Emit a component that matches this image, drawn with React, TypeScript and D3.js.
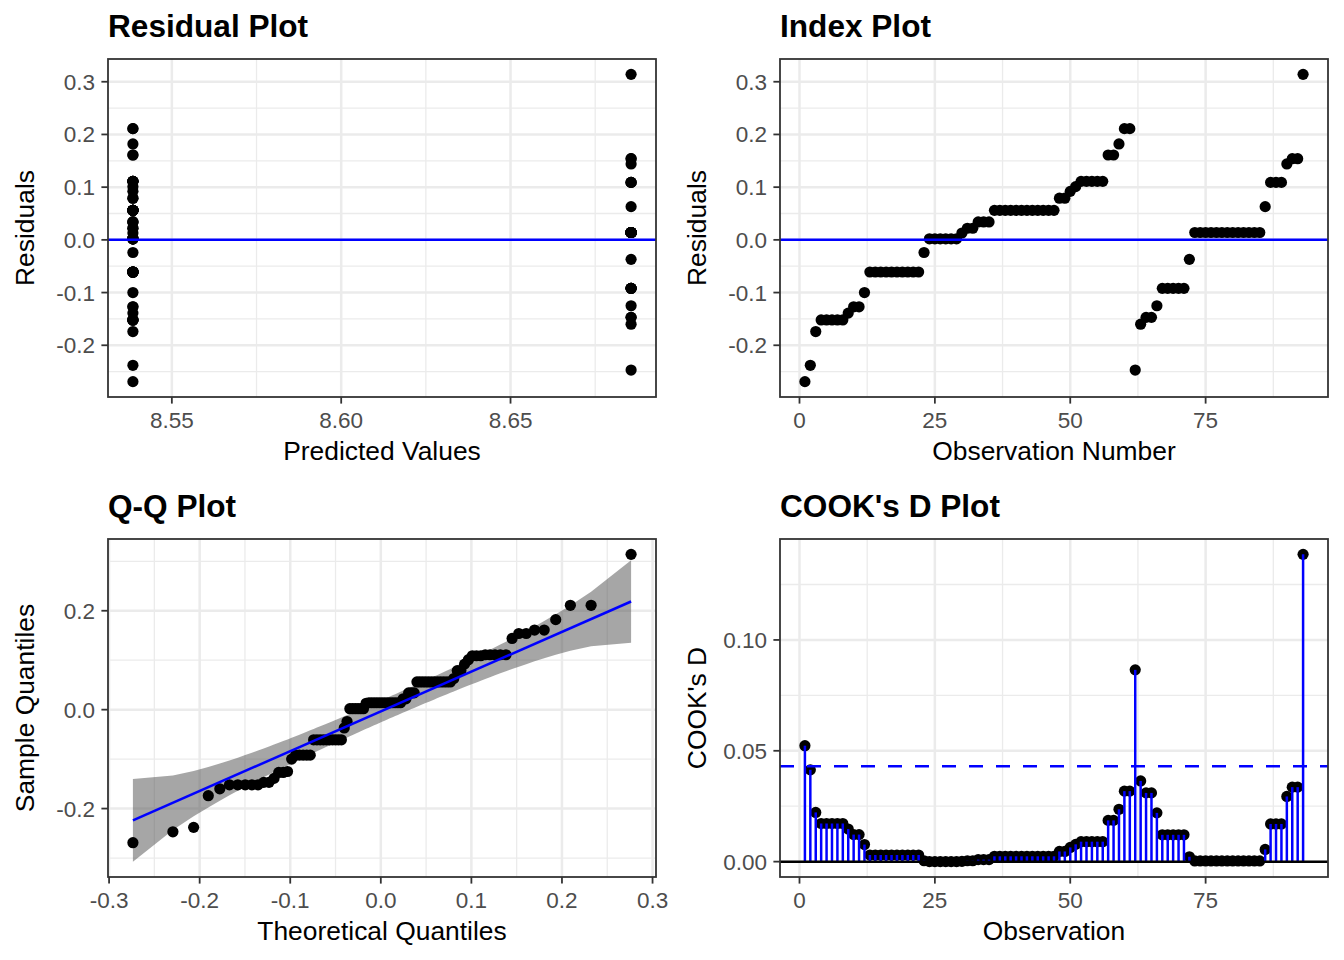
import * as d3 from 'd3';
import type { ReactNode } from 'react';

// residuals of the fitted model, in observation order
const residuals = [
  -0.269, -0.238, -0.174, -0.152, -0.152, -0.152, -0.152, -0.152, -0.139, -0.127,
  -0.127, -0.1, -0.061, -0.061, -0.061, -0.061, -0.061, -0.061, -0.061, -0.061,
  -0.061, -0.061, -0.024, 0.002, 0.002, 0.002, 0.002, 0.002, 0.002, 0.013,
  0.022, 0.022, 0.034, 0.034, 0.034, 0.056, 0.056, 0.056, 0.056, 0.056,
  0.056, 0.056, 0.056, 0.056, 0.056, 0.056, 0.056, 0.079, 0.079, 0.092,
  0.101, 0.111, 0.111, 0.111, 0.111, 0.111, 0.161, 0.161, 0.182, 0.211,
  0.211, -0.247, -0.16, -0.147, -0.147, -0.125, -0.092, -0.092, -0.092, -0.092,
  -0.092, -0.037, 0.014, 0.014, 0.014, 0.014, 0.014, 0.014, 0.014, 0.014,
  0.014, 0.014, 0.014, 0.014, 0.014, 0.063, 0.109, 0.109, 0.109, 0.144,
  0.154, 0.154, 0.314,
];

// Cook's distance per observation
const cooksD = [
  0.0523, 0.0414, 0.0222, 0.0172, 0.0172, 0.0172, 0.0172, 0.0172, 0.0147, 0.0122,
  0.0122, 0.0077, 0.003, 0.003, 0.003, 0.003, 0.003, 0.003, 0.003, 0.003,
  0.003, 0.003, 0.0004, 0.0, 0.0, 0.0, 0.0, 0.0, 0.0, 0.0001,
  0.0004, 0.0004, 0.0009, 0.0009, 0.0009, 0.0024, 0.0024, 0.0024, 0.0024, 0.0024,
  0.0024, 0.0024, 0.0024, 0.0024, 0.0024, 0.0024, 0.0024, 0.0046, 0.0046, 0.0064,
  0.0078, 0.009, 0.009, 0.009, 0.009, 0.009, 0.0186, 0.0186, 0.0236, 0.0318,
  0.0318, 0.0865, 0.0364, 0.031, 0.031, 0.022, 0.0121, 0.0121, 0.0121, 0.0121,
  0.0121, 0.0022, 0.0003, 0.0003, 0.0003, 0.0003, 0.0003, 0.0003, 0.0003, 0.0003,
  0.0003, 0.0003, 0.0003, 0.0003, 0.0003, 0.0055, 0.017, 0.017, 0.017, 0.0294,
  0.0336, 0.0336, 0.1386,
];

// two groups -> two fitted values
const fittedLevels = [8.5385, 8.6856];
const groupSizes = [61, 32];

const residualTicks = [-0.2, -0.1, 0, 0.1, 0.2, 0.3];
const fittedTicks = [8.55, 8.6, 8.65];
const obsTicks = [0, 25, 50, 75];
const qqXTicks = [-0.3, -0.2, -0.1, 0, 0.1, 0.2, 0.3];
const qqYTicks = [-0.2, 0, 0.2];
const cookTicks = [0, 0.05, 0.1];

const FONT = '"Liberation Sans", Arial, Helvetica, sans-serif';
const n = residuals.length;

const fitted = residuals.map((_, i) => (i < groupSizes[0] ? fittedLevels[0] : fittedLevels[1]));
const cookCutoff = 4 / n;

// inverse normal CDF (Acklam) for the Q-Q transform
function qnorm(p: number): number {
  const a = [-39.69683028665376, 220.9460984245205, -275.9285104469687, 138.357751867269, -30.66479806614716, 2.506628277459239];
  const b = [-54.47609879822406, 161.5858368580409, -155.6989798598866, 66.80131188771972, -13.28068155288572];
  const c = [-0.007784894002430293, -0.3223964580411365, -2.400758277161838, -2.549732539343734, 4.374664141464968, 2.938163982698783];
  const d = [0.007784695709041462, 0.3224671290700398, 2.445134137142996, 3.754408661907416];
  const pl = 0.02425;
  if (p < pl) {
    const q = Math.sqrt(-2 * Math.log(p));
    return (((((c[0] * q + c[1]) * q + c[2]) * q + c[3]) * q + c[4]) * q + c[5]) / ((((d[0] * q + d[1]) * q + d[2]) * q + d[3]) * q + 1);
  }
  if (p > 1 - pl) {
    const q = Math.sqrt(-2 * Math.log(1 - p));
    return -(((((c[0] * q + c[1]) * q + c[2]) * q + c[3]) * q + c[4]) * q + c[5]) / ((((d[0] * q + d[1]) * q + d[2]) * q + d[3]) * q + 1);
  }
  const q = p - 0.5;
  const r = q * q;
  return ((((((a[0] * r + a[1]) * r + a[2]) * r + a[3]) * r + a[4]) * r + a[5]) * q) / (((((b[0] * r + b[1]) * r + b[2]) * r + b[3]) * r + b[4]) * r + 1);
}
const dnorm = (z: number) => Math.exp((-z * z) / 2) / Math.sqrt(2 * Math.PI);

// Q-Q stats: normal fitted by mean / sd (MLE), line through quartiles, pointwise 95% band
const mu = d3.mean(residuals)!;
const sigma = Math.sqrt(d3.mean(residuals, (r) => (r - mu) ** 2)!);
const sorted = residuals.slice().sort(d3.ascending);
const qq = sorted.map((y, i) => {
  const p = (i + 0.5) / n;
  const z = qnorm(p);
  return { p, z, x: mu + sigma * z, y };
});
const yq1 = d3.quantile(sorted, 0.25)!;
const yq3 = d3.quantile(sorted, 0.75)!;
const xq1 = mu + sigma * qnorm(0.25);
const xq3 = mu + sigma * qnorm(0.75);
const slope = (yq3 - yq1) / (xq3 - xq1);
const intercept = yq1 - slope * xq1;
const zz = qnorm(0.975);
const band = qq.map((d) => {
  const fit = intercept + slope * d.x;
  const se = ((slope * sigma) / dnorm(d.z)) * Math.sqrt((d.p * (1 - d.p)) / n);
  return { x: d.x, lo: fit - zz * se, hi: fit + zz * se };
});

const expand = (lo: number, hi: number): [number, number] => {
  const r = hi - lo;
  return [lo - r * 0.05, hi + r * 0.05];
};

function minorOf(majors: number[], domain: number[]) {
  const step = majors[1] - majors[0];
  const out: number[] = [];
  for (let k = -1; k < majors.length; k++) {
    const v = majors[0] + (k + 0.5) * step;
    if (v >= Math.min(domain[0], domain[1]) && v <= Math.max(domain[0], domain[1])) out.push(v);
  }
  return out;
}

const fmt = (spec: string) => {
  const f = d3.format(spec);
  return (v: number) => f(v).replace('\u2212', '-');
};

const PW = 548;
const PH = 338;
const COLS = [108, 780];
const ROWS = [59, 539];
const TICK_FS = 22.5;

interface PanelProps {
  x: number;
  y: number;
  xs: d3.ScaleLinear<number, number>;
  ys: d3.ScaleLinear<number, number>;
  xTicks: number[];
  yTicks: number[];
  xFmt: (v: number) => string;
  yFmt: (v: number) => string;
  title: string;
  xLabel: string;
  yLabel: string;
  children: ReactNode;
}

function Panel({ x, y, xs, ys, xTicks, yTicks, xFmt, yFmt, title, xLabel, yLabel, children }: PanelProps) {
  const xMinor = minorOf(xTicks, xs.domain());
  const yMinor = minorOf(yTicks, ys.domain());
  return (
    <g>
      <text x={x} y={y - 22} fontSize={31.6} fontWeight="bold" fill="#000">
        {title}
      </text>
      <g transform={`translate(${x},${y})`}>
        <rect width={PW} height={PH} fill="#fff" />
        {xMinor.map((v) => (
          <line key={'xm' + v} x1={xs(v)} x2={xs(v)} y1={0} y2={PH} stroke="#EBEBEB" strokeWidth={1.3} />
        ))}
        {yMinor.map((v) => (
          <line key={'ym' + v} x1={0} x2={PW} y1={ys(v)} y2={ys(v)} stroke="#EBEBEB" strokeWidth={1.3} />
        ))}
        {xTicks.map((v) => (
          <line key={'xM' + v} x1={xs(v)} x2={xs(v)} y1={0} y2={PH} stroke="#EBEBEB" strokeWidth={2.5} />
        ))}
        {yTicks.map((v) => (
          <line key={'yM' + v} x1={0} x2={PW} y1={ys(v)} y2={ys(v)} stroke="#EBEBEB" strokeWidth={2.5} />
        ))}
        <g>{children}</g>
        <rect width={PW} height={PH} fill="none" stroke="#333333" strokeWidth={1.8} />
        {xTicks.map((v) => (
          <g key={'xt' + v}>
            <line x1={xs(v)} x2={xs(v)} y1={PH} y2={PH + 6.6} stroke="#333333" strokeWidth={1.8} />
            <text x={xs(v)} y={PH + 30.5} textAnchor="middle" fontSize={TICK_FS} fill="#4D4D4D">
              {xFmt(v)}
            </text>
          </g>
        ))}
        {yTicks.map((v) => (
          <g key={'yt' + v}>
            <line x1={-6.6} x2={0} y1={ys(v)} y2={ys(v)} stroke="#333333" strokeWidth={1.8} />
            <text x={-13} y={ys(v) + 8} textAnchor="end" fontSize={TICK_FS} fill="#4D4D4D">
              {yFmt(v)}
            </text>
          </g>
        ))}
        <text x={PW / 2} y={PH + 63} textAnchor="middle" fontSize={26.4} fill="#000">
          {xLabel}
        </text>
        <text
          transform={`translate(${-74},${PH / 2}) rotate(-90)`}
          textAnchor="middle"
          fontSize={26.4}
          fill="#000"
        >
          {yLabel}
        </text>
      </g>
    </g>
  );
}

export default function App() {
  const resExtent = d3.extent(residuals) as [number, number];
  const resY = d3.scaleLinear().domain(expand(resExtent[0], resExtent[1])).range([PH, 0]);

  const fitExtent = d3.extent(fitted) as [number, number];
  const fitX = d3.scaleLinear().domain(expand(fitExtent[0], fitExtent[1])).range([0, PW]);

  const obsX = d3.scaleLinear().domain(expand(1, n)).range([0, PW]);

  const qqXExt = d3.extent(qq, (d) => d.x) as [number, number];
  const qqX = d3.scaleLinear().domain(expand(qqXExt[0], qqXExt[1])).range([0, PW]);
  const qqYlo = Math.min(d3.min(band, (d) => d.lo)!, sorted[0]);
  const qqYhi = Math.max(d3.max(band, (d) => d.hi)!, sorted[n - 1]);
  const qqY = d3.scaleLinear().domain(expand(qqYlo, qqYhi)).range([PH, 0]);

  const cookY = d3.scaleLinear().domain(expand(0, d3.max(cooksD)!)).range([PH, 0]);

  const bandArea = d3
    .area<{ x: number; lo: number; hi: number }>()
    .x((d) => qqX(d.x))
    .y0((d) => qqY(d.lo))
    .y1((d) => qqY(d.hi));

  const R = 5.6;

  return (
    <svg
      width={1344}
      height={960}
      style={{ position: 'absolute', left: 0, top: 0, background: '#fff', fontFamily: FONT }}
    >
      <rect width={1344} height={960} fill="#fff" />

      <Panel
        x={COLS[0]}
        y={ROWS[0]}
        xs={fitX}
        ys={resY}
        xTicks={fittedTicks}
        yTicks={residualTicks}
        xFmt={fmt('.2f')}
        yFmt={fmt('.1f')}
        title="Residual Plot"
        xLabel="Predicted Values"
        yLabel="Residuals"
      >
        {residuals.map((r, i) => (
          <circle key={i} cx={fitX(fitted[i])} cy={resY(r)} r={R} fill="#000" />
        ))}
        <line x1={0} x2={PW} y1={resY(0)} y2={resY(0)} stroke="#0000FF" strokeWidth={2.5} />
      </Panel>

      <Panel
        x={COLS[1]}
        y={ROWS[0]}
        xs={obsX}
        ys={resY}
        xTicks={obsTicks}
        yTicks={residualTicks}
        xFmt={fmt('d')}
        yFmt={fmt('.1f')}
        title="Index Plot"
        xLabel="Observation Number"
        yLabel="Residuals"
      >
        {residuals.map((r, i) => (
          <circle key={i} cx={obsX(i + 1)} cy={resY(r)} r={R} fill="#000" />
        ))}
        <line x1={0} x2={PW} y1={resY(0)} y2={resY(0)} stroke="#0000FF" strokeWidth={2.5} />
      </Panel>

      <Panel
        x={COLS[0]}
        y={ROWS[1]}
        xs={qqX}
        ys={qqY}
        xTicks={qqXTicks}
        yTicks={qqYTicks}
        xFmt={fmt('.1f')}
        yFmt={fmt('.1f')}
        title="Q-Q Plot"
        xLabel="Theoretical Quantiles"
        yLabel="Sample Quantiles"
      >
        <path d={bandArea(band) || ''} fill="#4D4D4D" fillOpacity={0.5} />
        {qq.map((d, i) => (
          <circle key={i} cx={qqX(d.x)} cy={qqY(d.y)} r={R} fill="#000" />
        ))}
        <line
          x1={qqX(qqXExt[0])}
          x2={qqX(qqXExt[1])}
          y1={qqY(intercept + slope * qqXExt[0])}
          y2={qqY(intercept + slope * qqXExt[1])}
          stroke="#0000FF"
          strokeWidth={2.5}
        />
      </Panel>

      <Panel
        x={COLS[1]}
        y={ROWS[1]}
        xs={obsX}
        ys={cookY}
        xTicks={obsTicks}
        yTicks={cookTicks}
        xFmt={fmt('d')}
        yFmt={fmt('.2f')}
        title="COOK's D Plot"
        xLabel="Observation"
        yLabel="COOK's D"
      >
        {cooksD.map((v, i) => (
          <circle key={'p' + i} cx={obsX(i + 1)} cy={cookY(v)} r={R} fill="#000" />
        ))}
        {cooksD.map((v, i) => (
          <line
            key={'s' + i}
            x1={obsX(i + 1)}
            x2={obsX(i + 1)}
            y1={cookY(0)}
            y2={cookY(v)}
            stroke="#0000FF"
            strokeWidth={2.5}
          />
        ))}
        <line x1={0} x2={PW} y1={cookY(0)} y2={cookY(0)} stroke="#000" strokeWidth={2.5} />
        <line
          x1={0}
          x2={PW}
          y1={cookY(cookCutoff)}
          y2={cookY(cookCutoff)}
          stroke="#0000FF"
          strokeWidth={2.5}
          strokeDasharray="14 13"
        />
      </Panel>
    </svg>
  );
}
